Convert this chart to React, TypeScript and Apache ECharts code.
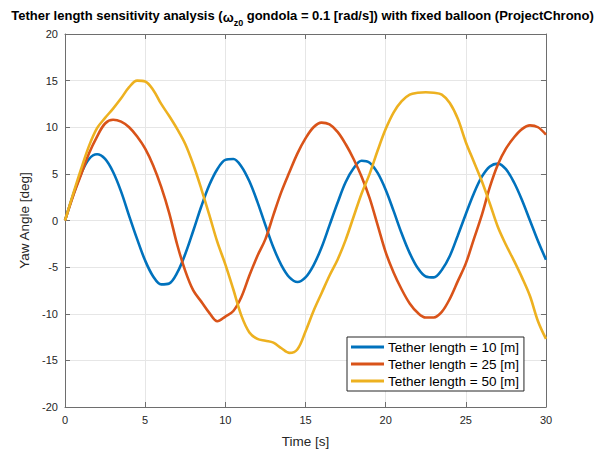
import React, { useEffect, useRef } from "react";
import * as echarts from "echarts";

const time = [
  0, 0.5, 1, 1.5, 2, 2.5, 3, 3.5, 4, 4.5, 5, 5.5, 6, 6.5, 7, 7.5, 8, 8.5, 9, 9.5,
  10, 10.5, 11, 11.5, 12, 12.5, 13, 13.5, 14, 14.5, 15, 15.5, 16, 16.5, 17, 17.5, 18, 18.5, 19, 19.5,
  20, 20.5, 21, 21.5, 22, 22.5, 23, 23.5, 24, 24.5, 25, 25.5, 26, 26.5, 27, 27.5, 28, 28.5, 29, 29.5, 30,
];

const tether10 = [
  0, 2.7, 5.0, 6.6, 7.1, 6.6, 5.2, 3.1, 0.5, -2.0, -4.3, -6.0, -6.85, -6.75, -5.6, -3.6, -1.1, 1.5, 3.8, 5.5,
  6.5, 6.6, 5.8, 4.2, 2.0, -0.5, -2.9, -4.8, -6.1, -6.6, -6.1, -4.8, -2.9, -0.5, 1.9, 4.1, 5.6, 6.4, 6.2, 5.1,
  3.3, 1.0, -1.4, -3.5, -5.1, -6.0, -6.1, -5.3, -3.8, -1.6, 0.7, 2.9, 4.7, 5.8, 6.1, 5.5, 4.1, 2.2, 0.0, -2.2, -4.2,
];

const tether25 = [
  0, 2.6, 4.9, 7.2, 9.0, 10.4, 10.8, 10.6, 10.0, 9.0, 7.7, 5.9, 3.6, 0.8, -2.6, -5.4, -7.5, -8.7, -9.9, -10.8,
  -10.3, -9.7, -8.2, -5.9, -3.8, -2.0, 0.6, 3.1, 5.2, 7.2, 8.8, 10.0, 10.5, 10.3, 9.5, 8.2, 6.6, 4.7, 2.4, -0.5,
  -3.4, -5.6, -7.4, -8.9, -9.9, -10.4, -10.4, -9.8, -8.4, -6.5, -4.6, -2.0, 0.6, 3.6, 6.0, 7.7, 8.9, 9.8, 10.2, 10.0, 9.2,
];

const tether50 = [
  0, 2.8, 5.5, 8.0, 9.9, 11.0, 12.0, 13.1, 14.3, 15.0, 14.9, 14.0, 12.5, 11.2, 9.8, 8.2, 6.0, 3.4, 0.6, -2.3,
  -4.7, -7.4, -10.2, -12.0, -12.7, -12.9, -13.1, -13.7, -14.2, -13.8, -11.9, -9.7, -7.8, -5.9, -4.2, -2.1, 0.4, 2.9, 5.0, 7.5,
  9.8, 11.6, 12.8, 13.5, 13.7, 13.75, 13.7, 13.5, 12.6, 10.9, 8.4, 6.3, 4.2, 1.8, -0.7, -2.6, -4.3, -6.1, -8.1, -10.8, -12.7,
];

const seriesNames = ["Tether length = 10 [m]", "Tether length = 25 [m]", "Tether length = 50 [m]"];
const seriesColors = ["#0072BD", "#D95319", "#EDB120"];
const seriesValues = [tether10, tether25, tether50];

const FONT = "Liberation Sans, Arial, sans-serif";
const AXIS_COLOR = "#6e6e6e";
const TEXT_COLOR = "#262626";

export default function App() {
  const ref = useRef<HTMLDivElement>(null);

  useEffect(() => {
    if (!ref.current) return;
    const chart = echarts.init(ref.current, null, { renderer: "svg" });

    const baseX = {
      type: "value",
      min: 0,
      max: 30,
      interval: 5,
      axisLine: { show: true, onZero: false, lineStyle: { color: AXIS_COLOR, width: 1 } },
      axisTick: { show: true, inside: true, length: 5, lineStyle: { color: AXIS_COLOR } },
    };
    const baseY = {
      type: "value",
      min: -20,
      max: 20,
      interval: 5,
      axisLine: { show: true, onZero: false, lineStyle: { color: AXIS_COLOR, width: 1 } },
      axisTick: { show: true, inside: true, length: 5, lineStyle: { color: AXIS_COLOR } },
    };

    chart.setOption({
      animation: false,
      backgroundColor: "#ffffff",
      textStyle: { fontFamily: FONT },
      title: {
        left: "center",
        top: 2,
        text:
          "Tether length sensitivity analysis ({w|ω}{s|z0} gondola = 0.1 [rad/s]) with fixed balloon (ProjectChrono)",
        textStyle: {
          fontFamily: FONT,
          fontSize: 13,
          fontWeight: "bold",
          color: "#000000",
          lineHeight: 17,
          rich: {
            w: { fontFamily: FONT, fontSize: 13, fontWeight: "bold", color: "#000", lineHeight: 17, verticalAlign: "bottom" },
            s: { fontFamily: FONT, fontSize: 9, fontWeight: "bold", color: "#000", lineHeight: 9, verticalAlign: "bottom", padding: [0, 0, -3, 0] },
          },
        },
      },
      grid: { left: 65, right: 59, top: 34, bottom: 39, containLabel: false },
      legend: {
        orient: "vertical",
        left: 347,
        top: 337,
        padding: [3, 5, 3, 4],
        itemGap: 3,
        itemWidth: 33,
        itemHeight: 14,
        backgroundColor: "#ffffff",
        borderColor: "#262626",
        borderWidth: 1,
        borderRadius: 0,
        icon: "path://M0,0H33V3H0Z",
        textStyle: { fontFamily: FONT, fontSize: 13.5, color: "#000000", padding: [0, 0, 0, -1] },
        data: seriesNames,
      },
      xAxis: [
        {
          ...baseX,
          position: "bottom",
          name: "Time [s]",
          nameLocation: "middle",
          nameGap: 27,
          nameTextStyle: { fontFamily: FONT, fontSize: 13.5, color: TEXT_COLOR },
          axisLabel: { color: TEXT_COLOR, fontSize: 11, fontFamily: FONT, margin: 7 },
          splitLine: { show: true, lineStyle: { color: "#e6e6e6", width: 1 } },
        },
        {
          ...baseX,
          position: "top",
          axisLabel: { show: false },
          splitLine: { show: false },
        },
      ],
      yAxis: [
        {
          ...baseY,
          position: "left",
          name: "Yaw Angle [deg]",
          nameLocation: "middle",
          nameRotate: 90,
          nameGap: 26,
          nameTextStyle: { fontFamily: FONT, fontSize: 13.5, color: TEXT_COLOR },
          axisLabel: { color: TEXT_COLOR, fontSize: 11, fontFamily: FONT, margin: 7 },
          splitLine: { show: true, lineStyle: { color: "#e6e6e6", width: 1 } },
        },
        {
          ...baseY,
          position: "right",
          axisLabel: { show: false },
          splitLine: { show: false },
        },
      ],
      series: seriesNames.map((name, i) => ({
        name,
        type: "line",
        xAxisIndex: 0,
        yAxisIndex: 0,
        data: time.map((t, k) => [t, seriesValues[i][k]]),
        smooth: 0.35,
        symbol: "none",
        showSymbol: false,
        color: seriesColors[i],
        lineStyle: { color: seriesColors[i], width: 2.6 },
        z: 3 + i,
      })),
    });

    return () => chart.dispose();
  }, []);

  return <div ref={ref} style={{ width: 605, height: 453, position: "absolute", left: 0, top: 0 }} />;
}
